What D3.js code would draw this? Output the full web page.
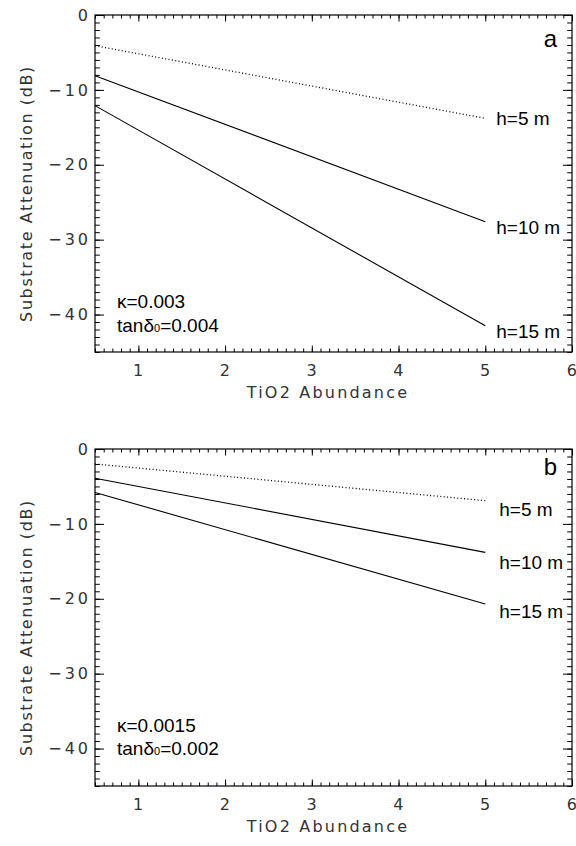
<!DOCTYPE html>
<html>
<head>
<meta charset="utf-8">
<script src="https://cdnjs.cloudflare.com/ajax/libs/d3/7.8.5/d3.min.js"></script>
<style>
  body { margin: 0; background: #fff; }
  .tick text { font-family: "DejaVu Sans", sans-serif; font-size: 16px; letter-spacing: 1.5px; fill: #333; }
  .ylab .tick text { letter-spacing: 3px; }
  .title { font-family: "DejaVu Sans", sans-serif; font-size: 16px; letter-spacing: 2.2px; fill: #333; }
  .note { font-family: "Liberation Sans", Arial, sans-serif; font-size: 19px; fill: #000; }
</style>
</head>
<body>
<div id="chart"></div>
<script>
// Data
const tio2 = [0.5, 5];
const heights = ["h=5 m", "h=10 m", "h=15 m"];
const attenA5 = [-4.1, -13.8];
const attenA10 = [-8.1, -27.6];
const attenA15 = [-12.1, -41.5];
const attenB5 = [-2.0, -6.9];
const attenB10 = [-3.9, -13.8];
const attenB15 = [-5.8, -20.7];
// label baselines (data units)
const labelYA = [-14.7, -29.2, -43.1];
const labelYB = [-8.9, -16.0, -22.5];
const xTicks = [1, 2, 3, 4, 5, 6];
const yTicks = [0, -10, -20, -30, -40];

const W = 576, H = 846;
const left = 95, right = 572;

const panels = [
  { top: 15, bottom: 352, series: [attenA5, attenA10, attenA15], labelY: labelYA,
    letter: "a", letterY: 47, kappa: "0.003", tand: "0.004", noteY: [308, 332], labelDx: 11 },
  { top: 449, bottom: 786, series: [attenB5, attenB10, attenB15], labelY: labelYB,
    letter: "b", letterY: 475, kappa: "0.0015", tand: "0.002", noteY: [732, 755], labelDx: 14 }
];

const svg = d3.select("#chart").append("svg")
    .attr("width", W)
    .attr("height", H);

panels.forEach(p => {
  const x = d3.scaleLinear().domain([0.5, 6]).range([left, right]);
  const y = d3.scaleLinear().domain([-45, 0]).range([p.bottom, p.top]);
  const g = svg.append("g");

  // minor ticks
  const xMinor = d3.range(0.5, 6.0001, 0.1).map(v => +v.toFixed(1));
  const yMinor = d3.range(-45, 0.5, 1);

  const addAxis = (axis, tr) => {
    const a = g.append("g").attr("transform", tr).call(axis);
    a.select(".domain").remove();
    a.selectAll(".tick line").attr("stroke", "#000").attr("stroke-width", 1);
    return a;
  };

  // bottom
  addAxis(d3.axisBottom(x).tickValues(xMinor).tickSize(-3.5).tickFormat(""), `translate(0,${p.bottom})`);
  addAxis(d3.axisBottom(x).tickValues(xTicks).tickSize(-6.5).tickPadding(12.6).tickFormat(d3.format("d")), `translate(0,${p.bottom})`);
  // top
  addAxis(d3.axisTop(x).tickValues(xMinor).tickSize(-3.5).tickFormat(""), `translate(0,${p.top})`);
  addAxis(d3.axisTop(x).tickValues(xTicks).tickSize(-6.5).tickFormat(""), `translate(0,${p.top})`);
  // left
  addAxis(d3.axisLeft(y).tickValues(yMinor).tickSize(-4.8).tickFormat(""), `translate(${left},0)`);
  addAxis(d3.axisLeft(y).tickValues(yTicks).tickSize(-9).tickPadding(4).tickFormat(d3.format("d")), `translate(${left},0)`)
    .attr("class", "ylab");
  // right
  addAxis(d3.axisRight(y).tickValues(yMinor).tickSize(-4.8).tickFormat(""), `translate(${right},0)`);
  addAxis(d3.axisRight(y).tickValues(yTicks).tickSize(-9).tickFormat(""), `translate(${right},0)`);

  // frame
  g.append("rect")
    .attr("x", left).attr("y", p.top)
    .attr("width", right - left).attr("height", p.bottom - p.top)
    .attr("fill", "none").attr("stroke", "#000").attr("stroke-width", 1.2);

  // lines
  const line = d3.line().x((d, i) => x(tio2[i])).y(d => y(d));
  p.series.forEach((s, i) => {
    g.append("path")
      .datum(s)
      .attr("d", line)
      .attr("fill", "none")
      .attr("stroke", "#000")
      .attr("stroke-width", i === 0 ? 1.3 : 1.1)
      .attr("stroke-dasharray", i === 0 ? "1,2.4" : null);

    g.append("text")
      .attr("class", "note")
      .attr("x", x(tio2[1]) + p.labelDx)
      .attr("y", y(p.labelY[i]))
      .text(heights[i]);
  });

  // panel letter
  g.append("text")
    .attr("class", "note")
    .attr("x", 557).attr("y", p.letterY)
    .attr("text-anchor", "end")
    .style("font-size", "24px")
    .text(p.letter);

  // parameters
  g.append("text").attr("class", "note")
    .attr("x", 117).attr("y", p.noteY[0])
    .text("κ=" + p.kappa);
  const t = g.append("text").attr("class", "note")
    .attr("x", 117).attr("y", p.noteY[1]);
  t.append("tspan").text("tanδ");
  t.append("tspan").style("font-size", "11px").text("0");
  t.append("tspan").text("=" + p.tand);

  // axis titles
  g.append("text").attr("class", "title")
    .attr("x", 328).attr("y", p.bottom + 46)
    .attr("text-anchor", "middle")
    .text("TiO2 Abundance");

  g.append("text").attr("class", "title")
    .attr("transform", `translate(32,${(p.top + p.bottom) / 2 + 10}) rotate(-90)`)
    .attr("text-anchor", "middle")
    .style("letter-spacing", "1.6px")
    .text("Substrate Attenuation (dB)");
});
</script>
</body>
</html>
